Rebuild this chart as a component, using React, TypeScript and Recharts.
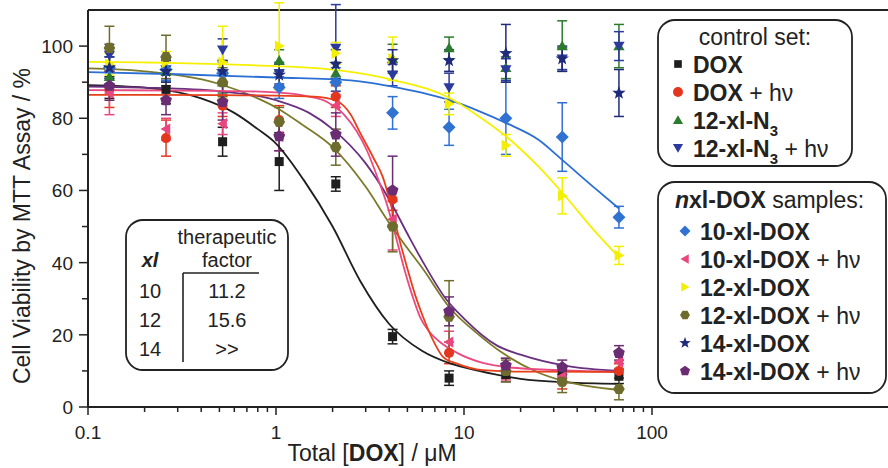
import React from "react";
import { ComposedChart, XAxis, YAxis, Scatter, Line, ErrorBar, ReferenceLine } from "recharts";

// concentrations (µM), doubling series
const CONC = [0.13, 0.26, 0.52, 1.04, 2.08, 4.17, 8.33, 16.7, 33.3, 66.7];

// measured viability (%) and error
const DOX = [88.5, 88, 73.5, 68, 61.8, 19.5, 8, 9, 9.5, 8.5];
const DOX_ERR = [3, 4, 4, 8, 2, 2, 2, 2, 1.5, 2];
const DOX_HV = [88, 74.5, 83.5, 79.5, 86, 57.5, 15, 10, 7, 10];
const DOX_HV_ERR = [5, 5, 3, 4, 3, 3, 3, 2, 2, 2];
const N3 = [91.5, 93, 90, 96, 92.5, 96.5, 99.5, 94, 100, 100];
const N3_ERR = [3, 3, 3, 3, 3, 4, 3, 3, 7, 6];
const N3_HV = [97.5, 93.5, 99, 92.5, 99.5, 92, 88.5, 93.5, 96.5, 100];
const N3_HV_ERR = [3, 3, 3, 3, 12, 3, 4, 3, 3, 4];
const XL10 = [94, 93.5, 92.5, 88.5, 90, 81.5, 77.5, 80, 74.8, 52.6];
const XL10_ERR = [3, 3, 3, 3, 4, 4.5, 5, 10, 9.5, 3];
const XL10_HV = [87, 77, 78.5, 75, 83.5, 52, 18, 10.5, 8.5, 12.5];
const XL10_HV_ERR = [6, 3, 3, 4, 3, 8.5, 3, 3, 2, 2];
const XL12 = [95, 95.5, 95.5, 100, 98, 96.5, 84, 72.5, 58.5, 42];
const XL12_ERR = [3, 3, 10, 12, 3, 6, 3, 3, 5, 2.5];
const XL12_HV = [99.5, 97, 90, 79, 72, 50, 25, 10, 7, 5];
const XL12_HV_ERR = [6, 6, 4, 4, 5, 7, 10, 3, 3, 3];
const XL14 = [94, 93, 93, 92, 95, 96, 96, 98, 96.5, 87];
const XL14_ERR = [3, 3, 3, 3, 4, 3, 3, 8, 3.5, 6.5];
const XL14_HV = [89, 85, 84.5, 75, 75.5, 60, 26.5, 11.5, 11, 15];
const XL14_HV_ERR = [4, 4, 5, 4, 6, 9.5, 4, 2, 2, 2];

// fitted curves
const DOX_FIT_X = [0.1, 0.2, 0.4, 0.6, 0.8, 1, 1.4, 2, 2.8, 4, 6, 8.5, 12, 20, 35, 66.7];
const DOX_FIT_Y = [89.2, 88.5, 85.5, 81.5, 77, 73, 63, 50, 35, 23, 15.5, 12, 10, 7.8, 6.8, 6.4];
const DOX_HV_FIT_X = [0.1, 0.5, 1, 1.6, 2.06, 2.5, 2.8, 3.3, 3.7, 4.04, 4.5, 4.97, 5.5, 6.05, 7, 7.73, 9.18, 12.6, 20, 66.7];
const DOX_HV_FIT_Y = [86.5, 86.4, 86.3, 86, 85, 81, 76, 69, 63.7, 57, 47, 38.8, 31, 25, 17.5, 13.9, 12, 10.2, 9.8, 9.7];
const XL10_FIT_X = [0.1, 0.3, 1, 2.5, 4.5, 8.4, 12, 16.9, 25, 33.4, 50, 66.7];
const XL10_FIT_Y = [92.8, 92.2, 91.3, 90.5, 88.4, 85, 82, 78.6, 74, 68.4, 60.5, 55];
const XL10_HV_FIT_X = [0.1, 0.5, 1, 1.5, 1.87, 2.3, 3.05, 3.5, 3.9, 4.4, 4.74, 5.3, 5.83, 6.5, 7.45, 9.18, 12.6, 19.1, 66.7];
const XL10_HV_FIT_Y = [87.8, 87.6, 87.2, 86, 84.5, 81, 71, 63, 56, 46, 39.5, 31, 25, 21, 18, 15, 12.2, 10.8, 9.7];
const XL12_FIT_X = [0.1, 0.3, 0.73, 2.06, 4.2, 8.4, 12, 16.9, 25, 33.4, 50, 66.7];
const XL12_FIT_Y = [95.6, 95.3, 94.7, 93.4, 90.6, 85.6, 80.5, 74.8, 66.5, 59.3, 48.5, 41.5];
const XL12_HV_FIT_X = [0.1, 0.2, 0.5, 0.8, 1, 1.4, 2, 3, 4, 5, 6, 8.4, 12, 16, 25, 35, 66.7];
const XL12_HV_FIT_Y = [93.8, 93, 89.5, 85.5, 83, 78, 72, 61, 51, 44, 38.5, 27.5, 20, 15, 9.5, 7, 4.7];
const XL14_HV_FIT_X = [0.1, 0.2, 0.5, 1, 1.5, 2, 3, 4, 5, 6, 8, 10, 15, 20, 35, 66.7];
const XL14_HV_FIT_Y = [88.8, 88.5, 87.5, 85, 81.5, 77, 67.5, 57.5, 48, 40.5, 30, 24.5, 17, 14.5, 11.4, 10];

const X_MAJOR = [0.1, 1, 10, 100];
const X_MINOR = [0.2, 0.3, 0.4, 0.5, 0.6, 0.7, 0.8, 0.9, 2, 3, 4, 5, 6, 7, 8, 9, 20, 30, 40, 50, 60, 70, 80, 90];
const Y_MAJOR = [0, 20, 40, 60, 80, 100];
const Y_MINOR = [10, 30, 50, 70, 90];

const FONT = "'Liberation Sans', Arial, Helvetica, sans-serif";
const INK = "#222";

const C = {
  black: "#1e1e1e",
  red: "#e4361f",
  green: "#2c7a2c",
  navyTri: "#2b3a9c",
  blue: "#2f72d2",
  pink: "#e8467c",
  yellow: "#f4ee00",
  olive: "#6e6c2c",
  navyStar: "#1f2a78",
  purple: "#6a2c72",
};

type Kind = "square" | "circle" | "up" | "down" | "diamond" | "left" | "right" | "hexagon" | "star" | "pentagon";

const SERIES: { name: string; vals: number[]; err: number[]; color: string; kind: Kind }[] = [
  { name: "DOX", vals: DOX, err: DOX_ERR, color: C.black, kind: "square" },
  { name: "DOX + hv", vals: DOX_HV, err: DOX_HV_ERR, color: C.red, kind: "circle" },
  { name: "12-xl-N3", vals: N3, err: N3_ERR, color: C.green, kind: "up" },
  { name: "12-xl-N3 + hv", vals: N3_HV, err: N3_HV_ERR, color: C.navyTri, kind: "down" },
  { name: "10-xl-DOX", vals: XL10, err: XL10_ERR, color: C.blue, kind: "diamond" },
  { name: "10-xl-DOX + hv", vals: XL10_HV, err: XL10_HV_ERR, color: C.pink, kind: "left" },
  { name: "12-xl-DOX", vals: XL12, err: XL12_ERR, color: C.yellow, kind: "right" },
  { name: "12-xl-DOX + hv", vals: XL12_HV, err: XL12_HV_ERR, color: C.olive, kind: "hexagon" },
  { name: "14-xl-DOX", vals: XL14, err: XL14_ERR, color: C.navyStar, kind: "star" },
  { name: "14-xl-DOX + hv", vals: XL14_HV, err: XL14_HV_ERR, color: C.purple, kind: "pentagon" },
];

const FITS = [
  { x: DOX_FIT_X, y: DOX_FIT_Y, color: C.black },
  { x: XL12_HV_FIT_X, y: XL12_HV_FIT_Y, color: "#7c7a2a" },
  { x: XL14_HV_FIT_X, y: XL14_HV_FIT_Y, color: "#6a3080" },
  { x: XL10_HV_FIT_X, y: XL10_HV_FIT_Y, color: "#ea4a82" },
  { x: DOX_HV_FIT_X, y: DOX_HV_FIT_Y, color: "#e6401a" },
  { x: XL10_FIT_X, y: XL10_FIT_Y, color: "#2c6fd4" },
  { x: XL12_FIT_X, y: XL12_FIT_Y, color: "#f6f000" },
];

function poly(cx: number, cy: number, n: number, r: number, rot: number, inner?: number) {
  const pts: string[] = [];
  const count = inner ? n * 2 : n;
  for (let i = 0; i < count; i++) {
    const rr = inner && i % 2 === 1 ? inner : r;
    const a = rot + (i * 2 * Math.PI) / count;
    pts.push(`${cx + rr * Math.cos(a)},${cy + rr * Math.sin(a)}`);
  }
  return pts.join(" ");
}

function Marker({ kind, cx, cy, color, s = 1 }: { kind: Kind; cx: number; cy: number; color: string; s?: number }) {
  const up = -Math.PI / 2;
  switch (kind) {
    case "square":
      return <rect x={cx - 4.5 * s} y={cy - 4.5 * s} width={9 * s} height={9 * s} fill={color} />;
    case "circle":
      return <circle cx={cx} cy={cy} r={5 * s} fill={color} />;
    case "up":
      return <polygon points={poly(cx, cy + 1, 3, 6.5 * s, up)} fill={color} />;
    case "down":
      return <polygon points={poly(cx, cy - 1, 3, 6.5 * s, Math.PI / 2)} fill={color} />;
    case "left":
      return <polygon points={poly(cx + 1, cy, 3, 6.5 * s, Math.PI)} fill={color} />;
    case "right":
      return <polygon points={poly(cx - 1, cy, 3, 6.5 * s, 0)} fill={color} />;
    case "diamond":
      return <polygon points={poly(cx, cy, 4, 6.5 * s, up)} fill={color} />;
    case "hexagon":
      return <polygon points={poly(cx, cy, 6, 5.8 * s, 0)} fill={color} />;
    case "star":
      return <polygon points={poly(cx, cy, 5, 7 * s, up, 2.9 * s)} fill={color} />;
    case "pentagon":
      return <polygon points={poly(cx, cy, 5, 6.2 * s, up)} fill={color} />;
  }
}

const XTick = (props: any) => {
  const { x, y, payload } = props;
  const v = payload.value as number;
  const major = X_MAJOR.indexOf(v) >= 0;
  return (
    <g>
      <line x1={x} x2={x} y1={y} y2={y + (major ? 8 : 5)} stroke={INK} strokeWidth={1.5} />
      {major && (
        <text x={x} y={y + 32} textAnchor="middle" fontSize={19} fontFamily={FONT} fill={INK}>
          {String(v)}
        </text>
      )}
    </g>
  );
};

const YTick = (props: any) => {
  const { x, y, payload } = props;
  const v = payload.value as number;
  const major = Y_MAJOR.indexOf(v) >= 0;
  return (
    <g>
      <line x1={x} x2={x - (major ? 9 : 6)} y1={y} y2={y} stroke={INK} strokeWidth={1.5} />
      {major && (
        <text x={x - 15} y={y + 7} textAnchor="end" fontSize={19} fontFamily={FONT} fill={INK}>
          {String(v)}
        </text>
      )}
    </g>
  );
};

function Overlay() {
  const t = { fontFamily: FONT, fill: INK } as const;
  const box1Rows = [73, 101, 129, 157];
  const box2Rows = [240, 268, 296, 324, 352, 380];
  return (
    <svg width={888} height={468} style={{ position: "absolute", left: 0, top: 0, pointerEvents: "none" }}>
      {/* axis titles */}
      <text {...t} fontSize={23} textAnchor="middle" transform="translate(30,226) rotate(-90)">
        Cell Viability by MTT Assay / %
      </text>
      <text {...t} fontSize={23} x={372} y={461} textAnchor="middle">
        Total [<tspan fontWeight="bold">DOX</tspan>] / μM
      </text>

      {/* inset table */}
      <rect x={126} y={220} width={162} height={150} rx={17} fill="#fff" stroke={INK} strokeWidth={1.8} />
      <text {...t} fontSize={20} x={227} y={244} textAnchor="middle">therapeutic</text>
      <text {...t} fontSize={20} x={227} y={267} textAnchor="middle">factor</text>
      <text {...t} fontSize={20} x={150} y={267} textAnchor="middle" fontWeight="bold" fontStyle="italic">xl</text>
      <line x1={183} x2={259} y1={273} y2={273} stroke={INK} strokeWidth={1.6} />
      <line x1={183} x2={183} y1={273} y2={362} stroke={INK} strokeWidth={1.6} />
      {[["10", "11.2", 298], ["12", "15.6", 327], ["14", ">>", 356]].map(([a, b, y]) => (
        <g key={a as string}>
          <text {...t} fontSize={20} x={150} y={y as number} textAnchor="middle">{a}</text>
          <text {...t} fontSize={20} x={227} y={y as number} textAnchor="middle">{b}</text>
        </g>
      ))}

      {/* legend: control set */}
      <rect x={658} y={20} width={194} height={146} rx={17} fill="#fff" stroke={INK} strokeWidth={1.8} />
      <text {...t} fontSize={23} x={755} y={45} textAnchor="middle">control set:</text>
      <Marker kind="square" cx={678} cy={box1Rows[0] - 9} color={C.black} s={0.85} />
      <text {...t} fontSize={23} x={693} y={box1Rows[0]} fontWeight="bold">DOX</text>
      <Marker kind="circle" cx={678} cy={box1Rows[1] - 9} color={C.red} />
      <text {...t} fontSize={23} x={693} y={box1Rows[1]}>
        <tspan fontWeight="bold">DOX</tspan> + hν
      </text>
      <Marker kind="up" cx={678} cy={box1Rows[2] - 9} color={C.green} s={0.9} />
      <text {...t} fontSize={23} x={693} y={box1Rows[2]} fontWeight="bold">
        12-xl-N<tspan fontSize={15} dy={7}>3</tspan>
      </text>
      <Marker kind="down" cx={678} cy={box1Rows[3] - 9} color={C.navyTri} s={0.9} />
      <text {...t} fontSize={23} x={693} y={box1Rows[3]}>
        <tspan fontWeight="bold">12-xl-N</tspan>
        <tspan fontWeight="bold" fontSize={15} dy={7}>3</tspan>
        <tspan dy={-7}> + hν</tspan>
      </text>

      {/* legend: samples */}
      <rect x={658} y={182} width={228} height={211} rx={17} fill="#fff" stroke={INK} strokeWidth={1.8} />
      <text {...t} fontSize={23} x={675} y={208}>
        <tspan fontWeight="bold" fontStyle="italic">n</tspan>
        <tspan fontWeight="bold">xl-DOX</tspan> samples:
      </text>
      {SERIES.slice(4).map((s, i) => {
        const hv = s.name.endsWith("+ hv");
        const base = hv ? s.name.replace(" + hv", "") : s.name;
        return (
          <g key={s.name}>
            <Marker kind={s.kind} cx={685} cy={box2Rows[i] - 9} color={s.color} s={0.85} />
            <text {...t} fontSize={23} x={700} y={box2Rows[i]}>
              <tspan fontWeight="bold">{base}</tspan>
              {hv ? " + hν" : ""}
            </text>
          </g>
        );
      })}
    </svg>
  );
}

export default function App() {
  return (
    <div style={{ position: "absolute", left: 0, top: 0, width: 888, height: 468, background: "#fff" }}>
      <ComposedChart width={888} height={468} margin={{ top: 10, right: 0, bottom: 0, left: 0 }}>
        <XAxis
          dataKey="x"
          type="number"
          scale="log"
          domain={[0.1, 1800]}
          allowDataOverflow
          ticks={[...X_MAJOR, ...X_MINOR].sort((a, b) => a - b)}
          interval={0}
          tick={<XTick />}
          tickLine={false}
          tickSize={0}
          tickMargin={0}
          height={61}
          axisLine={{ stroke: INK, strokeWidth: 2 }}
        />
        <YAxis
          dataKey="y"
          type="number"
          domain={[0, 110]}
          allowDataOverflow
          ticks={[...Y_MAJOR, ...Y_MINOR].sort((a, b) => a - b)}
          interval={0}
          tick={<YTick />}
          tickLine={false}
          tickSize={0}
          tickMargin={0}
          width={88}
          axisLine={{ stroke: INK, strokeWidth: 2 }}
        />
        <ReferenceLine y={110} stroke={INK} strokeWidth={2} />
        {SERIES.map((s) => (
          <Scatter
            key={s.name}
            name={s.name}
            data={CONC.map((x, i) => ({ x, y: s.vals[i], e: s.err[i] }))}
            isAnimationActive={false}
            shape={(p: any) => <Marker kind={s.kind} cx={p.cx} cy={p.cy} color={s.color} />}
          >
            <ErrorBar dataKey="e" direction="y" width={5} stroke={s.color} strokeWidth={1.5} />
          </Scatter>
        ))}
        {FITS.map((f, k) => (
          <Line
            key={k}
            data={f.x.map((x, i) => ({ x, y: f.y[i] }))}
            dataKey="y"
            type="monotone"
            dot={false}
            activeDot={false}
            stroke={f.color}
            strokeWidth={1.8}
            isAnimationActive={false}
          />
        ))}
      </ComposedChart>
      <Overlay />
    </div>
  );
}
